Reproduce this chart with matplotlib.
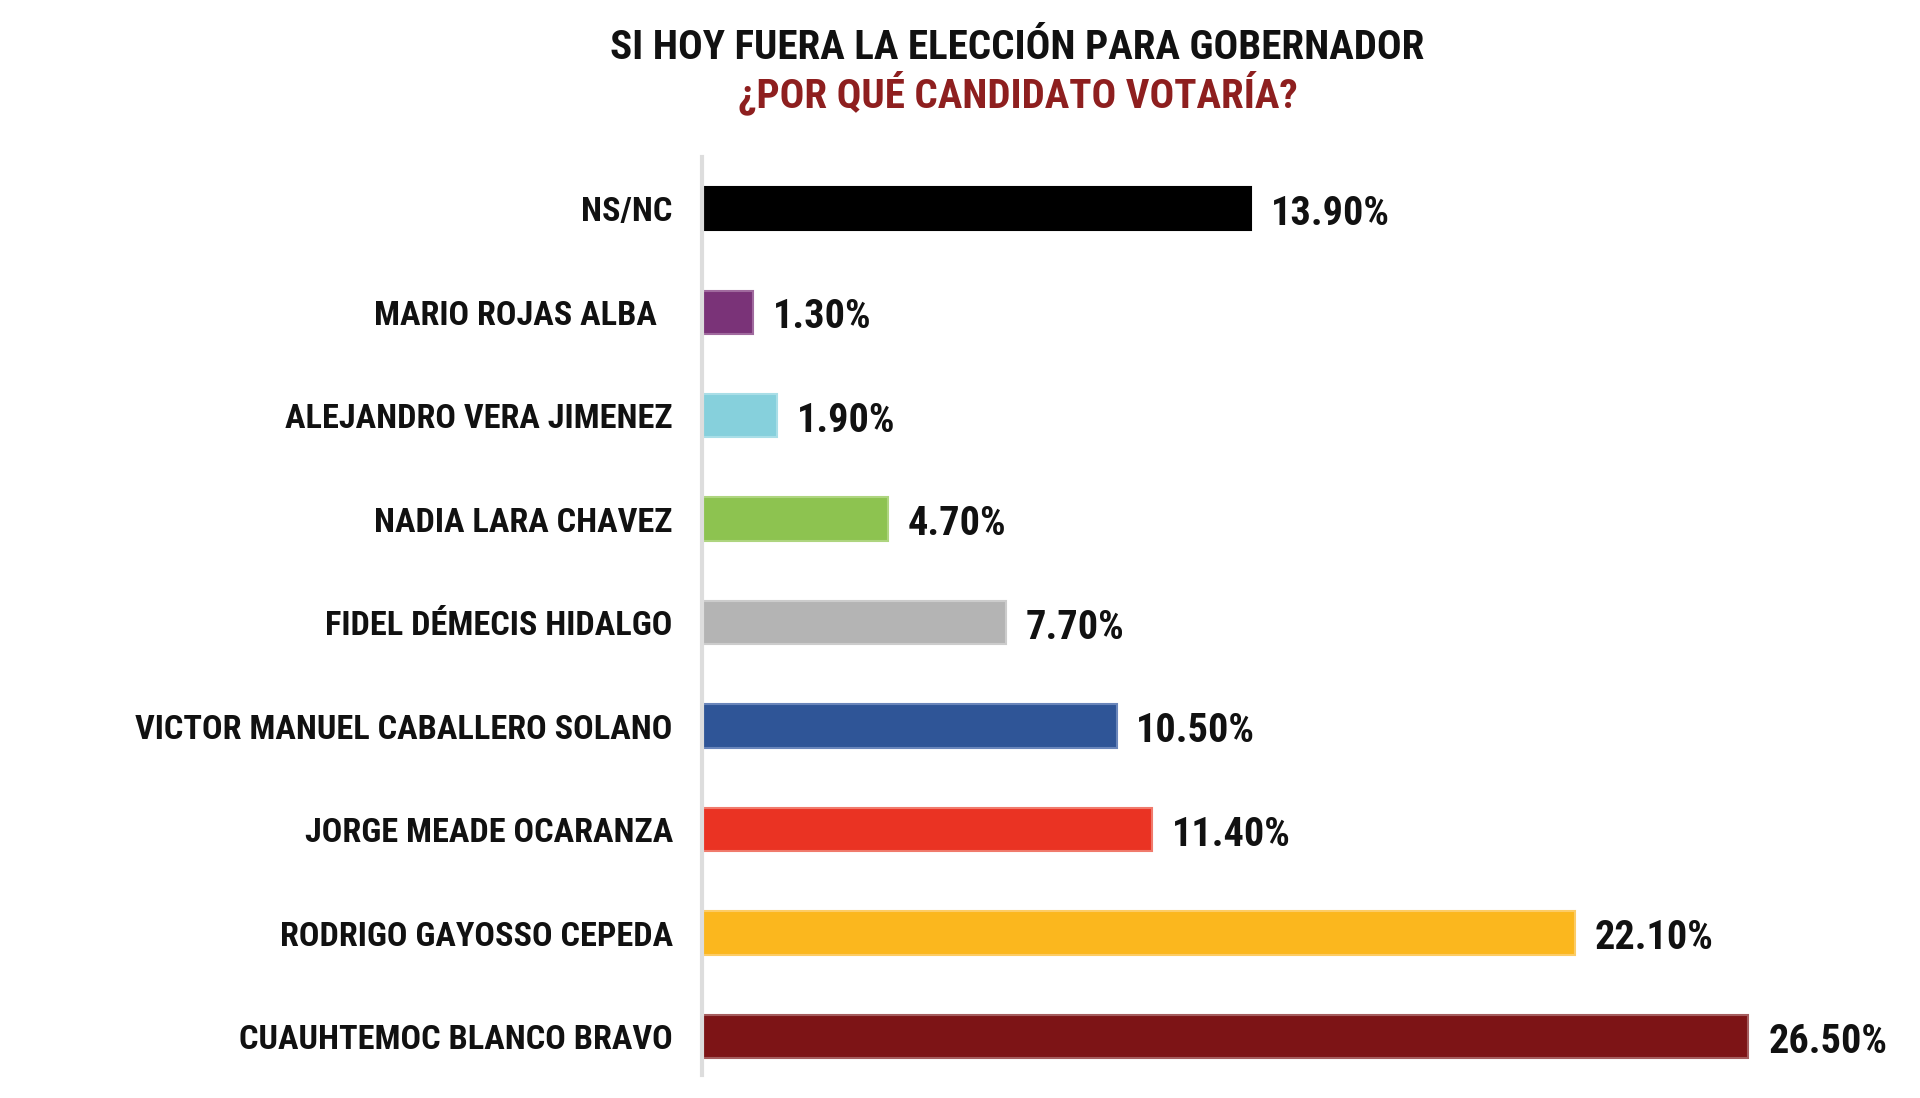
import matplotlib.pyplot as plt

# data, top to bottom as in the chart
candidates = [
    "NS/NC",
    "MARIO ROJAS ALBA  ",
    "ALEJANDRO VERA JIMENEZ",
    "NADIA LARA CHAVEZ",
    "FIDEL DÉMECIS HIDALGO",
    "VICTOR MANUEL CABALLERO SOLANO",
    "JORGE MEADE OCARANZA",
    "RODRIGO GAYOSSO CEPEDA",
    "CUAUHTEMOC BLANCO BRAVO",
]
percentages = [13.9, 1.3, 1.9, 4.7, 7.7, 10.5, 11.4, 22.1, 26.5]
bar_colors = [
    "#000000", "#7A3378", "#86D0DC", "#8DC350", "#B4B4B4",
    "#2F5597", "#EA3323", "#FBB71E", "#7D1416",
]
edge_colors = [
    "#000000", "#A06A9E", "#A9DEE7", "#AED57F", "#CCCCCC",
    "#6A86BB", "#F07A6C", "#FCCC66", "#A55D5E",
]

plt.rcParams["font.family"] = ["Roboto Condensed", "DejaVu Sans"]
plt.rcParams["font.weight"] = "bold"

fig = plt.figure(figsize=(19.2, 10.98), dpi=100)
ax = fig.add_axes([0.3656, 0.021, 0.617, 0.836])

ypos = list(range(len(candidates)))
ax.barh(ypos, percentages, height=0.42, color=bar_colors,
        edgecolor=edge_colors, linewidth=1.5)

# value labels to the right of each bar
for y, v in zip(ypos, percentages):
    ax.text(v + 0.5, y + 0.05, f"{v:.2f}%", va="center", ha="left",
            fontsize=29, fontweight="bold", color="#111111")

ax.set_yticks(ypos)
ax.set_yticklabels(candidates, fontsize=24.7, fontweight="bold", color="#111111")
ax.tick_params(axis="y", length=0, pad=21)
ax.set_xticks([])
ax.set_xlim(0, 30)
ax.set_ylim(8.37, -0.5)

for s in ["top", "right", "bottom"]:
    ax.spines[s].set_visible(False)
ax.spines["left"].set_color("#DDDDDD")
ax.spines["left"].set_linewidth(3)

fig.text(0.530, 0.956, "SI HOY FUERA LA ELECCIÓN PARA GOBERNADOR",
         ha="center", va="center", fontsize=29.5, fontweight="bold", color="#111111")
fig.text(0.530, 0.915, "¿POR QUÉ CANDIDATO VOTARÍA?",
         ha="center", va="center", fontsize=29.5, fontweight="bold", color="#8E1F1F")

fig.savefig("out.png", dpi=100, facecolor="white")
